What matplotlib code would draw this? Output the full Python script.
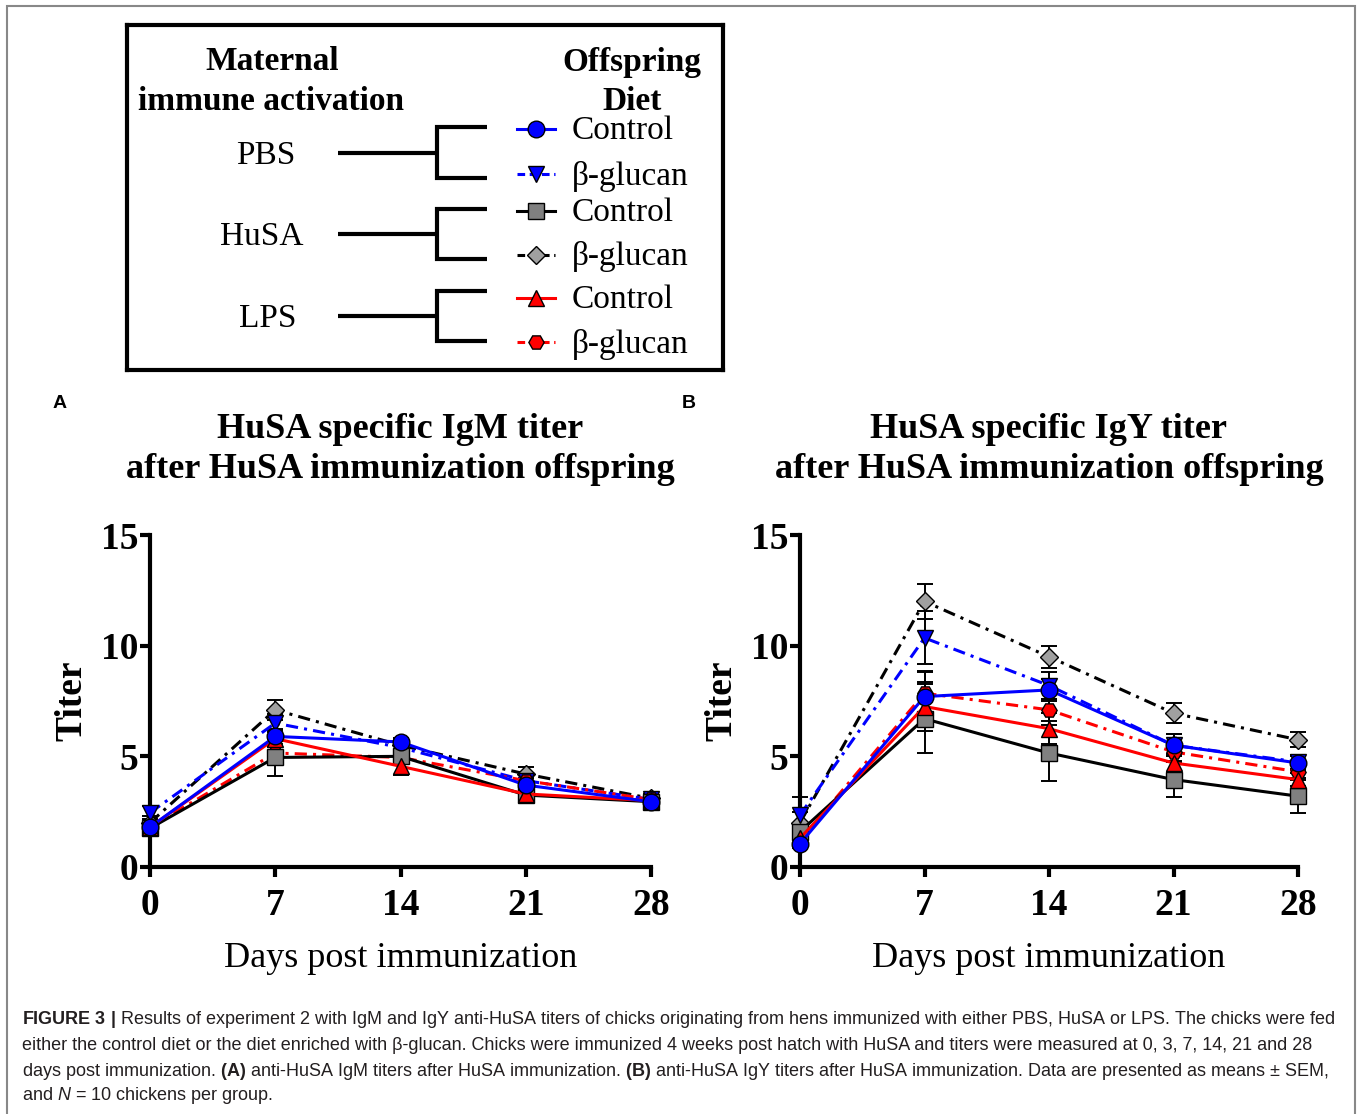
import matplotlib.pyplot as plt
from matplotlib.patches import Rectangle

# данные: дни и титры (среднее и SEM)
days = [0, 7, 14, 21, 28]
groups = ['PBS', 'HuSA', 'LPS']
diets = ['Control', 'β-glucan']

# IgM (панель A)
igm_pbs_ctrl = [1.8, 5.9, 5.65, 3.7, 2.95]
igm_pbs_bg = [2.45, 6.5, 5.4, 3.9, 3.05]
igm_husa_ctrl = [1.75, 4.95, 5.0, 3.25, 2.95]
igm_husa_bg = [2.0, 7.1, 5.5, 4.2, 3.1]
igm_lps_ctrl = [1.8, 5.8, 4.55, 3.3, 3.0]
igm_lps_bg = [1.8, 5.15, 4.95, 3.9, 3.05]

igm_pbs_ctrl_sem = [0.2, 0.35, 0.2, 0.3, 0.2]
igm_pbs_bg_sem = [0.3, 0.4, 0.3, 0.3, 0.2]
igm_husa_ctrl_sem = [0.25, 0.85, 0.3, 0.3, 0.25]
igm_husa_bg_sem = [0.3, 0.45, 0.3, 0.3, 0.2]
igm_lps_ctrl_sem = [0.2, 0.4, 0.4, 0.3, 0.2]
igm_lps_bg_sem = [0.2, 0.35, 0.3, 0.3, 0.2]

# IgY (панель B)
igy_pbs_ctrl = [1.05, 7.7, 8.0, 5.5, 4.7]
igy_pbs_bg = [2.35, 10.35, 8.2, 5.5, 4.75]
igy_husa_ctrl = [1.6, 6.7, 5.15, 3.95, 3.2]
igy_husa_bg = [2.0, 12.0, 9.5, 6.95, 5.75]
igy_lps_ctrl = [1.3, 7.25, 6.25, 4.7, 3.95]
igy_lps_bg = [1.2, 7.85, 7.1, 5.2, 4.3]

igy_pbs_ctrl_sem = [0.2, 1.1, 0.5, 0.5, 0.3]
igy_pbs_bg_sem = [0.8, 1.2, 0.6, 0.5, 0.3]
igy_husa_ctrl_sem = [0.3, 1.55, 1.25, 0.8, 0.75]
igy_husa_bg_sem = [0.5, 0.8, 0.5, 0.45, 0.35]
igy_lps_ctrl_sem = [0.2, 1.1, 0.7, 0.4, 0.3]
igy_lps_bg_sem = [0.2, 1.0, 0.5, 0.4, 0.3]

# стили: (маркер, заливка, цвет линии, тип линии, размер маркера)
styles = [
    ('D', '#A0A0A0', 'black', 'dashdot', 9),    # HuSA b-glucan
    ('v', '#0000FF', '#0000FF', 'dashdot', 11),  # PBS b-glucan
    ('H', '#FF0000', '#FF0000', 'dashdot', 11),  # LPS b-glucan
    ('s', '#808080', 'black', 'solid', 11),      # HuSA control
    ('^', '#FF0000', '#FF0000', 'solid', 11),    # LPS control
    ('o', '#0000FF', '#0000FF', 'solid', 12),    # PBS control
]

igm_series = [(igm_husa_bg, igm_husa_bg_sem), (igm_pbs_bg, igm_pbs_bg_sem),
              (igm_lps_bg, igm_lps_bg_sem), (igm_husa_ctrl, igm_husa_ctrl_sem),
              (igm_lps_ctrl, igm_lps_ctrl_sem), (igm_pbs_ctrl, igm_pbs_ctrl_sem)]
igy_series = [(igy_husa_bg, igy_husa_bg_sem), (igy_pbs_bg, igy_pbs_bg_sem),
              (igy_lps_bg, igy_lps_bg_sem), (igy_husa_ctrl, igy_husa_ctrl_sem),
              (igy_lps_ctrl, igy_lps_ctrl_sem), (igy_pbs_ctrl, igy_pbs_ctrl_sem)]

serif = 'Liberation Serif'
W, H = 1360, 1114
fig = plt.figure(figsize=(W / 100, H / 100), dpi=100)

# серая рамка вокруг рисунка
fig.patches.append(Rectangle((7 / W, -0.05), (1355 - 7) / W, 1.05 - 6 / H,
                             transform=fig.transFigure, fill=False,
                             edgecolor='#888888', linewidth=1.5))


def draw_panel(ax, series, title):
    for (vals, sem), (mk, fc, lc, ls, ms) in zip(series, styles):
        ax.errorbar(days, vals, yerr=sem, fmt='none', ecolor='black',
                    elinewidth=1.4, capsize=6, capthick=1.4, clip_on=False, zorder=2)
    for (vals, sem), (mk, fc, lc, ls, ms) in zip(series, styles):
        line, = ax.plot(days, vals, color=lc, lw=2.2, marker=mk, ms=ms,
                        markerfacecolor=fc, markeredgecolor='black',
                        markeredgewidth=1.0, clip_on=False, zorder=3)
        if ls == 'dashdot':
            line.set_dashes((4, 2, 1, 2))
    ax.set_xlim(0, 28)
    ax.set_ylim(0, 15)
    ax.set_xticks(days)
    ax.set_yticks([0, 5, 10, 15])
    for s in ['top', 'right']:
        ax.spines[s].set_visible(False)
    for s in ['left', 'bottom']:
        ax.spines[s].set_linewidth(3)
    ax.tick_params(width=3, length=7, labelsize=27)
    ax.tick_params(axis='x', pad=8)
    ax.tick_params(axis='y', pad=1.5)
    for lab in ax.get_xticklabels() + ax.get_yticklabels():
        lab.set_fontfamily(serif)
        lab.set_fontweight('bold')
    ax.set_ylabel('Titer', fontfamily=serif, fontweight='bold', fontsize=27, labelpad=8)
    ax.set_xlabel('Days post immunization', fontfamily=serif, fontsize=26, labelpad=14)
    ax.set_title(title, fontfamily=serif, fontweight='bold', fontsize=26,
                 linespacing=1.3, pad=41)


axA = fig.add_axes([150 / W, 1 - 867 / H, 501 / W, 332 / H])
axB = fig.add_axes([800 / W, 1 - 867 / H, 498 / W, 332 / H])
draw_panel(axA, igm_series, 'HuSA specific IgM titer\nafter HuSA immunization offspring')
draw_panel(axB, igy_series, 'HuSA specific IgY titer\nafter HuSA immunization offspring')

fig.text(53 / W, 1 - 404 / H, 'A', fontsize=14, fontweight='bold',
         fontfamily='Liberation Sans', va='center')
fig.text(682 / W, 1 - 404 / H, 'B', fontsize=14, fontweight='bold',
         fontfamily='Liberation Sans', va='center')

# легенда-схема (координаты в пикселях)
lg = fig.add_axes([127 / W, 1 - 370 / H, (723 - 127) / W, (370 - 25) / H])
lg.set_xlim(127, 723)
lg.set_ylim(370, 25)
lg.set_xticks([])
lg.set_yticks([])
for s in lg.spines.values():
    s.set_linewidth(3)

lg.text(272, 62, 'Maternal', fontfamily=serif, fontweight='bold', fontsize=24, ha='center', va='center')
lg.text(271, 102, 'immune activation', fontfamily=serif, fontweight='bold', fontsize=24, ha='center', va='center')
lg.text(632, 62, 'Offspring', fontfamily=serif, fontweight='bold', fontsize=24, ha='center', va='center')
lg.text(632, 102, 'Diet', fontfamily=serif, fontweight='bold', fontsize=24, ha='center', va='center')

group_y = [(127, 178), (209, 259), (291, 341)]
group_x = [266, 262, 268]
legend_order = [5, 1, 3, 0, 4, 2]  # PBS ctrl, PBS bg, HuSA ctrl, HuSA bg, LPS ctrl, LPS bg
entry_y = [129, 174, 211, 255, 298, 342]
for i, g in enumerate(groups):
    y1, y2 = group_y[i]
    yc = (y1 + y2) / 2
    lg.text(group_x[i], yc + 3, g, fontfamily=serif, fontsize=24, ha='center', va='center')
    lg.plot([338, 437], [yc, yc], color='black', lw=3, solid_capstyle='butt')
    lg.plot([487, 437, 437, 487], [y1, y1, y2, y2], color='black', lw=3,
            solid_joinstyle='miter', solid_capstyle='butt')
    for j, d in enumerate(diets):
        k = 2 * i + j
        mk, fc, lc, ls, ms = styles[legend_order[k]]
        ln, = lg.plot([517, 536, 555], [entry_y[k]] * 3, color=lc, lw=2.2,
                      marker=mk, markevery=[1], ms=ms, markerfacecolor=fc,
                      markeredgecolor='black', markeredgewidth=1.0)
        if ls == 'dashdot':
            ln.set_dashes((2.5, 1.5))
        lg.text(572, entry_y[k] + 2, d, fontfamily=serif, fontsize=24, ha='left', va='center')

# подпись к рисунку
plt.rcParams['mathtext.fontset'] = 'custom'
plt.rcParams['mathtext.rm'] = 'Liberation Sans'
plt.rcParams['mathtext.bf'] = 'Liberation Sans:bold'
plt.rcParams['mathtext.it'] = 'Liberation Sans:italic'
caption = [
    r'$\mathbf{FIGURE\ 3\ |}$ Results of experiment 2 with IgM and IgY anti-HuSA titers of chicks originating from hens immunized with either PBS, HuSA or LPS. The chicks were fed',
    'either the control diet or the diet enriched with β-glucan. Chicks were immunized 4 weeks post hatch with HuSA and titers were measured at 0, 3, 7, 14, 21 and 28',
    r'days post immunization. $\mathbf{(A)}$ anti-HuSA IgM titers after HuSA immunization. $\mathbf{(B)}$ anti-HuSA IgY titers after HuSA immunization. Data are presented as means ± SEM,',
    r'and $\mathit{N}$ = 10 chickens per group.',
]
cap_y = [1019, 1045, 1071, 1096]
for line, y in zip(caption, cap_y):
    fig.text(22 / W, 1 - y / H, line, fontfamily='Liberation Sans', fontsize=13,
             color='#231f20', va='center', ha='left')

fig.savefig('out.png', dpi=100)
